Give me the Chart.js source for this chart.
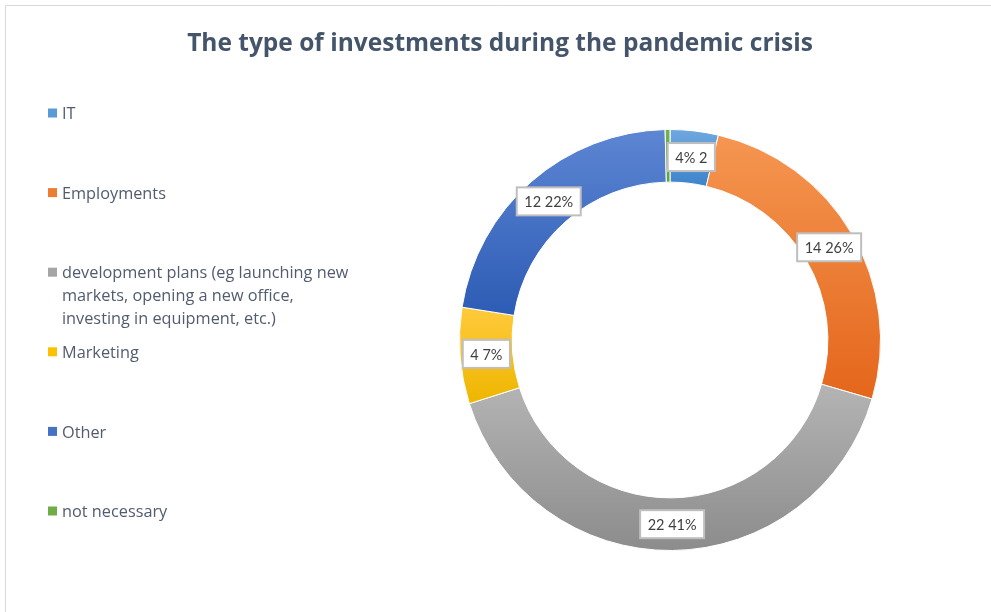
<!DOCTYPE html>
<html>
<head>
<meta charset="utf-8">
<title>Investments during the pandemic</title>
<script src="https://cdn.jsdelivr.net/npm/chart.js@4/dist/chart.umd.min.js"></script>
<style>
  html, body { margin: 0; padding: 0; background: #fff; overflow: hidden; }
  canvas { display: block; }
</style>
</head>
<body>
<canvas id="chart" width="991" height="612"></canvas>
<script>
// categories and answers
const categories = [
  'IT',
  'Employments',
  'development plans (eg launching new markets, opening a new office, investing in equipment, etc.)',
  'Marketing',
  'Other',
  'not necessary'
];
const counts = [2, 14, 22, 4, 12, 0.2];
// label layout per slice: value first or percent first
const labelOrder = ['pv', 'vp', 'vp', 'vp', 'vp', 'none'];

// legend swatches, plus top / bottom colours of each slice gradient
const swatches    = ['#5b9bd5', '#ed7d31', '#a5a5a5', '#ffc000', '#4472c4', '#70ad47'];
const lightShades = ['#70a8df', '#f59651', '#b4b4b4', '#ffca3c', '#5d86d3', '#74b44e'];
const darkShades  = ['#3d84cb', '#e4661b', '#8c8c8c', '#eeb600', '#2d5cb5', '#62a33e'];

const TITLE = 'The type of investments during the pandemic crisis';
const TEXT_FONT = '"Open Sans", "Liberation Sans", sans-serif';
const LABEL_FONT = 'Lato, "Open Sans", sans-serif';
const CUTOUT = 0.75;

const total = counts.reduce((a, b) => a + b, 0);

// vertical gradient over the bounding box of one ring slice
function sliceFill(ctx) {
  const chart = ctx.chart;
  const i = ctx.dataIndex;
  const area = chart.chartArea;
  if (!area || i === undefined) return darkShades[i] || '#999';
  const cx = (area.left + area.right) / 2;
  const cy = (area.top + area.bottom) / 2;
  const outer = Math.min(area.width, area.height) / 2;
  const inner = outer * CUTOUT;
  let start = 0;
  for (let k = 0; k < i; k++) start += counts[k];
  const a0 = start / total * Math.PI * 2 - Math.PI / 2;
  const a1 = (start + counts[i]) / total * Math.PI * 2 - Math.PI / 2;
  let minY = Infinity, maxY = -Infinity;
  for (let s = 0; s <= 60; s++) {
    const a = a0 + (a1 - a0) * s / 60;
    for (const r of [inner, outer]) {
      const y = cy + r * Math.sin(a);
      minY = Math.min(minY, y);
      maxY = Math.max(maxY, y);
    }
  }
  if (maxY - minY < 1) maxY = minY + 1;
  const g = chart.ctx.createLinearGradient(0, minY, 0, maxY);
  g.addColorStop(0, lightShades[i]);
  g.addColorStop(1, darkShades[i]);
  return g;
}

// frame, title and the left-hand legend
const decorPlugin = {
  id: 'decor',
  beforeDraw(chart) {
    const c = chart.ctx;
    c.save();
    c.strokeStyle = '#d9d9d9';
    c.lineWidth = 1;
    c.beginPath();
    c.moveTo(5.5, chart.height + 2);
    c.lineTo(5.5, 5.5);
    c.lineTo(chart.width + 2, 5.5);
    c.stroke();
    c.restore();
  },
  afterDraw(chart) {
    const c = chart.ctx;
    c.save();
    c.fillStyle = '#44546a';
    c.font = 'bold 24.5px ' + TEXT_FONT;
    c.textAlign = 'center';
    c.textBaseline = 'middle';
    c.fillText(TITLE, 500, 44);

    c.font = '16.3px ' + TEXT_FONT;
    c.textAlign = 'left';
    const maxW = 294, lineH = 23, step = 79.6;
    categories.forEach((name, i) => {
      const y0 = 113 + i * step;
      c.fillStyle = swatches[i];
      c.fillRect(48, y0 - 4.5, 9, 9);
      // wrap long names into several lines
      const words = name.split(' ');
      const lines = [];
      let cur = '';
      words.forEach(w => {
        const t = cur ? cur + ' ' + w : w;
        if (c.measureText(t).width > maxW && cur) { lines.push(cur); cur = w; }
        else cur = t;
      });
      lines.push(cur);
      c.fillStyle = '#515c6e';
      lines.forEach((ln, j) => c.fillText(ln, 62, y0 + 1.5 + j * lineH));
    });
    c.restore();
  }
};

// boxed value labels at the middle of each slice
const sliceLabelPlugin = {
  id: 'sliceLabels',
  afterDatasetsDraw(chart) {
    const c = chart.ctx;
    const meta = chart.getDatasetMeta(0);
    c.save();
    c.font = '14.5px ' + LABEL_FONT;
    c.textAlign = 'center';
    c.textBaseline = 'middle';
    meta.data.forEach((arc, i) => {
      if (labelOrder[i] === 'none') return;
      const v = counts[i];
      const pct = Math.round(v / total * 100) + '%';
      const text = labelOrder[i] === 'pv' ? pct + ' ' + v : v + ' ' + pct;
      const p = arc.getCenterPoint();
      const w = c.measureText(text).width + 15;
      const h = 28;
      c.fillStyle = '#ffffff';
      c.fillRect(p.x - w / 2, p.y - h / 2, w, h);
      c.strokeStyle = '#bfbfbf';
      c.lineWidth = 2;
      c.strokeRect(p.x - w / 2, p.y - h / 2, w, h);
      c.fillStyle = '#404040';
      c.fillText(text, p.x, p.y + 1);
    });
    c.restore();
  }
};

new Chart(document.getElementById('chart'), {
  type: 'doughnut',
  data: {
    labels: categories,
    datasets: [{
      data: counts,
      backgroundColor: sliceFill,
      borderColor: '#ffffff',
      borderWidth: 1
    }]
  },
  options: {
    responsive: false,
    animation: false,
    cutout: (CUTOUT * 100) + '%',
    rotation: 0,
    layout: { padding: { left: 459, right: 110, top: 129, bottom: 61 } },
    plugins: {
      legend: { display: false },
      title: { display: false },
      tooltip: { enabled: false }
    }
  },
  plugins: [decorPlugin, sliceLabelPlugin]
});
</script>
</body>
</html>
